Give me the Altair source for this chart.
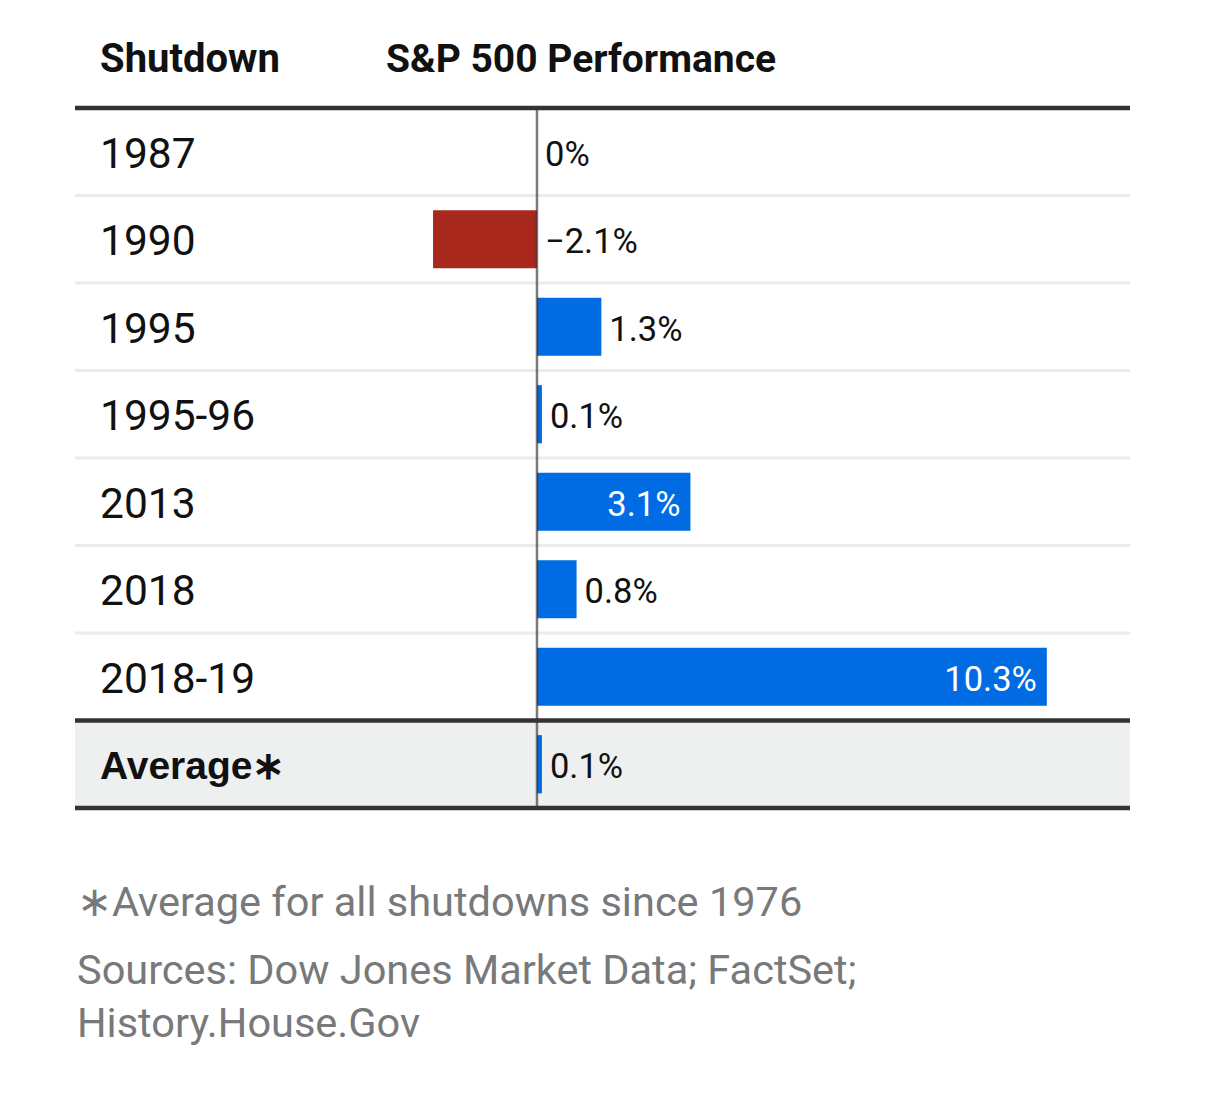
import altair as alt
import pandas as pd

shutdowns = ["1987", "1990", "1995", "1995-96", "2013", "2018", "2018-19", "Average"]
values = [0.0, -2.1, 1.3, 0.1, 3.1, 0.8, 10.3, 0.1]
labels = ["0%", "\u22122.1%", "1.3%", "0.1%", "3.1%", "0.8%", "10.3%", "0.1%"]
row_labels = ["1987", "1990", "1995", "1995-96", "2013", "2018", "2018-19", "Average\u2217"]

header_left = "Shutdown"
header_right = "S&P 500 Performance"
footnote = "\u2217Average for all shutdowns since 1976"
sources = ["Sources: Dow Jones Market Data; FactSet;", "History.House.Gov"]

df = pd.DataFrame({
    "Shutdown": shutdowns,
    "value": values,
    "label": labels,
    "row": row_labels,
    "idx": list(range(len(shutdowns))),
})

W, H = 1055, 700
BLUE = "#006be3"
RED = "#a9281d"
DARK = "#333333"
GREY_TXT = "#77797b"
FONT = "Roboto"
BAR_PAD = 0.1675

ysc = alt.Scale(domain=[0, len(shutdowns)], nice=False, zero=False, reverse=True)
xsc = alt.Scale(domain=[-9.333, 11.98], nice=False, zero=False)

base = alt.Chart(df).transform_calculate(
    top="datum.idx",
    bot="datum.idx + 1",
    mid="datum.idx + 0.5",
    b0=f"datum.idx + {BAR_PAD}",
    b1=f"datum.idx + 1 - {BAR_PAD}",
    zero="0",
    pos="max(datum.value, 0)",
)

def yq(f):
    return alt.Y(f"{f}:Q", scale=ysc, axis=None)

def xq(f):
    return alt.X(f"{f}:Q", scale=xsc, axis=None)

bg = base.transform_filter(alt.datum.Shutdown == "Average").mark_rect(color="#eef0f0").encode(
    x=alt.value(0), x2=alt.value(W), y=yq("top"), y2="bot:Q"
)

light = base.transform_filter(
    (alt.datum.Shutdown != "1987") & (alt.datum.Shutdown != "Average")
).mark_rule(color="#ebebeb", strokeWidth=3).encode(x=alt.value(0), x2=alt.value(W), y=yq("top"))

thick = base.transform_filter(
    (alt.datum.Shutdown == "1987") | (alt.datum.Shutdown == "Average")
).mark_rule(color=DARK, strokeWidth=4.5).encode(x=alt.value(0), x2=alt.value(W), y=yq("top"))

thick_bottom = base.transform_filter(alt.datum.Shutdown == "Average").mark_rule(
    color=DARK, strokeWidth=4.5
).encode(x=alt.value(0), x2=alt.value(W), y=yq("bot"))

bars = base.mark_rect().encode(
    x=xq("zero"),
    x2="value:Q",
    y=yq("b0"),
    y2="b1:Q",
    color=alt.condition(alt.datum.value < 0, alt.value(RED), alt.value(BLUE)),
)

zero = base.transform_filter(alt.datum.Shutdown == "1987").mark_rule(
    color="#333333", opacity=0.65, strokeWidth=2.5
).encode(x=xq("zero"), y=alt.value(0), y2=alt.value(H))

lab_out = base.transform_filter(alt.datum.value < 3).mark_text(
    align="left", baseline="middle", dx=8, dy=4, font=FONT, fontSize=34.5, color="#111111"
).encode(x=xq("pos"), y=yq("mid"), text="label:N")

lab_in = base.transform_filter(alt.datum.value >= 3).mark_text(
    align="right", baseline="middle", dx=-10, dy=4, font=FONT, fontSize=34.5, color="white"
).encode(x=xq("value"), y=yq("mid"), text="label:N")

rows = base.transform_filter(alt.datum.Shutdown != "Average").mark_text(
    align="left", baseline="middle", dy=3, font=FONT, fontSize=42.5, color="#111111"
).encode(x=alt.value(25), y=yq("mid"), text="row:N")

avg = base.transform_filter(alt.datum.Shutdown == "Average").mark_text(
    align="left", baseline="middle", dy=3, font="Liberation Sans", fontSize=39, fontWeight="bold", color="#111111"
).encode(x=alt.value(25), y=yq("mid"), text="row:N")

def fixed_text(txt, x, y, size, weight="normal", color="#111111"):
    return base.transform_filter(alt.datum.Shutdown == "1987").mark_text(
        align="left", baseline="middle", font=FONT, fontSize=size, fontWeight=weight, color=color
    ).encode(x=alt.value(x), y=alt.value(y), text=alt.value(txt))

hdr1 = fixed_text(header_left, 25, -48, 40, "bold")
hdr2 = fixed_text(header_right, 311, -48, 39, "bold")
fn = fixed_text(footnote, 2, 796, 41.5, color=GREY_TXT)
src1 = fixed_text(sources[0], 2, 864, 41.5, color=GREY_TXT)
src2 = fixed_text(sources[1], 2, 917, 41.5, color=GREY_TXT)

chart = alt.layer(
    bg, light, bars, zero, thick, thick_bottom, lab_out, lab_in, rows, avg, hdr1, hdr2, fn, src1, src2
).properties(
    width=W,
    height=H,
    autosize=alt.AutoSizeParams(type="none"),
    padding={"left": 67, "top": 100, "right": 60, "bottom": 280},
    background="white",
).configure_view(stroke=None)

chart.save("out.html", embed_options={"renderer": "svg", "actions": False})
